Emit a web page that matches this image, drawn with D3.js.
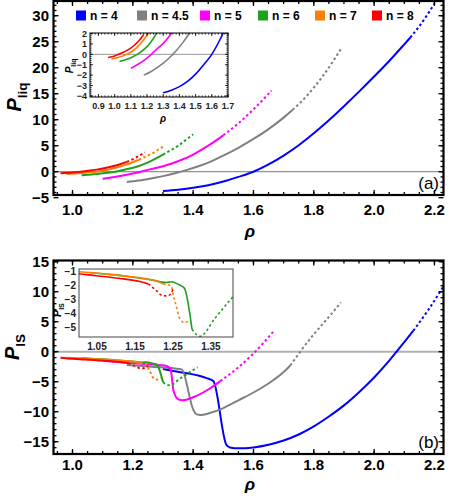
<!DOCTYPE html>
<html><head><meta charset="utf-8">
<script src="https://cdn.jsdelivr.net/npm/d3@7"></script>
<style>body{margin:0;background:#fff;} svg{display:block;font-family:"Liberation Sans",Arial,sans-serif;}</style>
</head><body><svg id="c" width="450" height="501"></svg>
<script>
const seriesNames = ["n = 4", "n = 4.5", "n = 5", "n = 6", "n = 7", "n = 8"];
const seriesColors = ["#0000ff", "#808080", "#ff00ff", "#1fa01f", "#ff8000", "#ff0000"];

// Panel (a): P_liq vs rho
const liqRho4 = [1.30,1.35,1.40,1.45,1.50,1.55,1.60,1.65,1.70,1.75,1.80,1.85,1.90,1.95,2.00,2.05,2.10,2.12,2.15,2.20];
const liqP4   = [-3.7,-3.45,-3.1,-2.6,-1.9,-1.0,0.0,1.4,3.1,5.1,7.4,9.9,12.6,15.4,18.3,21.3,24.5,25.8,28.0,32.3];
const liqRho45 = [1.18,1.22,1.26,1.30,1.34,1.38,1.42,1.46,1.50,1.55,1.60,1.65,1.70,1.73,1.78,1.83,1.89];
const liqP45   = [-2.0,-1.7,-1.3,-0.85,-0.3,0.35,1.1,2.0,3.1,4.6,6.3,8.2,10.4,11.9,14.8,18.4,23.6];
const liqRho5 = [1.10,1.14,1.18,1.22,1.26,1.30,1.35,1.40,1.45,1.50,1.55,1.60,1.66];
const liqP5   = [-1.35,-1.0,-0.6,-0.1,0.5,1.05,2.0,3.3,5.0,7.0,9.3,12.0,15.6];
const liqRho6 = [1.03,1.07,1.11,1.15,1.19,1.22,1.25,1.30,1.35,1.40];
const liqP6   = [-0.7,-0.5,-0.25,0.1,0.6,1.1,1.8,3.3,5.0,7.2];
const liqRho7 = [0.98,1.02,1.06,1.10,1.14,1.18,1.22,1.26,1.30];
const liqP7   = [-0.45,-0.3,-0.1,0.2,0.7,1.4,2.3,3.4,4.8];
const liqRho8 = [0.96,1.00,1.04,1.08,1.12,1.15,1.18,1.21,1.24];
const liqP8   = [-0.3,-0.15,0.1,0.4,0.85,1.3,1.9,2.7,3.7];
const liqSolidEnd = [2.12, 1.73, 1.50, 1.30, 1.22, 1.18];

// Panel (b): P_IS vs rho
const isRho4 = [1.30,1.34,1.38,1.42,1.445,1.467,1.51,1.522,1.55,1.60,1.65,1.70,1.75,1.80,1.85,1.90,1.95,2.00,2.05,2.10,2.13,2.18,2.235];
const isP4   = [-2.9,-3.25,-3.6,-4.0,-4.4,-4.9,-15.5,-15.95,-16.1,-15.95,-15.5,-14.8,-13.8,-12.45,-10.8,-8.95,-6.75,-4.3,-1.5,1.6,3.5,7.0,11.3];
const isRho45 = [1.18,1.22,1.26,1.30,1.34,1.362,1.40,1.41,1.425,1.45,1.50,1.55,1.60,1.65,1.70,1.722,1.755,1.80,1.85,1.89];
const isP45   = [-2.2,-2.35,-2.5,-2.65,-2.8,-2.95,-9.6,-10.4,-10.55,-10.3,-9.4,-8.1,-6.8,-5.3,-3.4,-2.3,0.0,2.9,5.8,8.2];
const isRho5 = [1.10,1.15,1.20,1.25,1.29,1.31,1.325,1.335,1.35,1.365,1.40,1.45,1.49,1.55,1.60,1.665];
const isP5   = [-1.5,-1.7,-1.9,-2.1,-2.25,-2.35,-2.9,-6.5,-7.9,-8.1,-7.6,-6.3,-4.9,-2.6,-0.3,3.3];
const isRho6 = [1.03,1.07,1.11,1.15,1.19,1.233,1.246,1.265,1.28,1.30,1.321,1.36,1.40,1.415];
const isP6   = [-1.1,-1.2,-1.3,-1.45,-1.6,-1.8,-1.75,-1.95,-2.2,-5.1,-5.6,-4.35,-3.05,-2.6];
const isRho7 = [0.98,1.02,1.06,1.10,1.14,1.18,1.20,1.224,1.235,1.246,1.25,1.259,1.267,1.28,1.294];
const isP7   = [-1.0,-1.08,-1.17,-1.28,-1.4,-1.55,-1.65,-1.9,-1.95,-2.05,-2.6,-3.5,-4.3,-4.64,-4.45];
const isRho8 = [0.96,1.00,1.04,1.08,1.12,1.16,1.185,1.207,1.222,1.237,1.25];
const isP8   = [-1.0,-1.18,-1.3,-1.42,-1.55,-1.72,-1.9,-2.39,-2.73,-2.75,-2.3];
const isSolidEnd = [2.13, 1.722, 1.49, 1.30, 1.224, 1.185];

// Tick labels
const mainXTicks = [1.0, 1.2, 1.4, 1.6, 1.8, 2.0, 2.2];
const liqYTicks = [-5, 0, 5, 10, 15, 20, 25, 30];
const isYTicks = [-15, -10, -5, 0, 5, 10, 15];
const liqInsetXTicks = [0.9, 1.0, 1.1, 1.2, 1.3, 1.4, 1.5, 1.6, 1.7];
const liqInsetYTicks = [-4, -3, -2, -1, 0, 1, 2];
const isInsetXTicks = [1.05, 1.15, 1.25, 1.35];
const isInsetYTicks = [-5, -4, -3, -2, -1];

const liqData = [[liqRho4,liqP4],[liqRho45,liqP45],[liqRho5,liqP5],[liqRho6,liqP6],[liqRho7,liqP7],[liqRho8,liqP8]];
const isData = [[isRho4,isP4],[isRho45,isP45],[isRho5,isP5],[isRho6,isP6],[isRho7,isP7],[isRho8,isP8]];

const svg = d3.select("#c");
const defs = svg.append("defs");
let clipN = 0;
function clipRect(x0, y0, x1, y1) {
  const id = "clip" + (clipN++);
  defs.append("clipPath").attr("id", id).append("rect")
    .attr("x", x0).attr("y", y0).attr("width", x1 - x0).attr("height", y1 - y0);
  return "url(#" + id + ")";
}
function fmt(v, d) { return v < 0 ? "\u2212" + Math.abs(v).toFixed(d) : v.toFixed(d); }

function drawSeries(g, xs, ys, rho, p, solidEnd, color, width, solidOnly) {
  const pts = rho.map((r, i) => [r, p[i]]);
  const line = d3.line().x(d => xs(d[0])).y(d => ys(d[1])).curve(d3.curveMonotoneX);
  const solid = pts.filter(d => d[0] <= solidEnd + 1e-9);
  const dotted = pts.filter(d => d[0] >= solidEnd - 1e-9);
  g.append("path").attr("d", line(solid)).attr("fill", "none").attr("stroke", color)
    .attr("stroke-width", width).attr("stroke-linejoin", "round");
  if (!solidOnly && dotted.length > 1) {
    g.append("path").attr("d", line(dotted)).attr("fill", "none").attr("stroke", color)
      .attr("stroke-width", width).attr("stroke-dasharray", "2.5,2.5");
  }
}

function frameTicks(g, xs, ys, xMaj, xMin, yMaj, yMin, L, l, sw) {
  const [x0, x1] = xs.range(); const [y0, y1] = ys.range();
  const tk = g.append("g").attr("stroke", "#000").attr("stroke-width", sw);
  xMin.forEach(v => { const X = xs(v); if (X < x0 || X > x1) return;
    tk.append("line").attr("x1", X).attr("x2", X).attr("y1", y0).attr("y2", y0 - l);
    tk.append("line").attr("x1", X).attr("x2", X).attr("y1", y1).attr("y2", y1 + l); });
  xMaj.forEach(v => { const X = xs(v); if (X < x0 || X > x1) return;
    tk.append("line").attr("x1", X).attr("x2", X).attr("y1", y0).attr("y2", y0 - L);
    tk.append("line").attr("x1", X).attr("x2", X).attr("y1", y1).attr("y2", y1 + L); });
  yMin.forEach(v => { const Y = ys(v); if (Y > y0 || Y < y1) return;
    tk.append("line").attr("x1", x0).attr("x2", x0 + l).attr("y1", Y).attr("y2", Y);
    tk.append("line").attr("x1", x1).attr("x2", x1 - l).attr("y1", Y).attr("y2", Y); });
  yMaj.forEach(v => { const Y = ys(v); if (Y > y0 + 3 || Y < y1) return;
    tk.append("line").attr("x1", x0).attr("x2", x0 + L).attr("y1", Y).attr("y2", Y);
    tk.append("line").attr("x1", x1).attr("x2", x1 - L).attr("y1", Y).attr("y2", Y); });
}
function rangeStep(a, b, s) { const out = []; for (let v = a; v <= b + 1e-9; v += s) out.push(+v.toFixed(4)); return out; }

function labelSub(g, x, y, main, sub, size, rotate) {
  const t = g.append("text").attr("transform", `translate(${x},${y})` + (rotate ? " rotate(-90)" : ""))
    .attr("text-anchor", "middle").attr("font-weight", "bold").attr("font-size", size);
  t.append("tspan").attr("font-style", "italic").text(main);
  t.append("tspan").attr("font-size", size * 0.68).attr("dy", size * 0.28).text(sub);
}

// ---------- Panel (a) ----------
const xA = d3.scaleLinear().domain([0.937, 2.23]).range([53.5, 443.5]);
const yA = d3.scaleLinear().domain([-4.48, 32.83]).range([195, 1]);
const gA = svg.append("g");
gA.append("line").attr("x1", xA.range()[0]).attr("x2", xA.range()[1]).attr("y1", yA(0)).attr("y2", yA(0))
  .attr("stroke", "#777").attr("stroke-width", 1);
const cA = gA.append("g").attr("clip-path", clipRect(53.5, 1, 443.5, 195));
liqData.forEach((d, i) => drawSeries(cA, xA, yA, d[0], d[1], liqSolidEnd[i], seriesColors[i], 2, false));
frameTicks(gA, xA, yA, mainXTicks, rangeStep(0.95, 2.2, 0.05), liqYTicks, rangeStep(-4, 32, 1), 5, 3, 1.3);
gA.append("rect").attr("x", 53.5).attr("y", 1).attr("width", 390).attr("height", 194)
  .attr("fill", "none").attr("stroke", "#000").attr("stroke-width", 2.2);
gA.selectAll(".xl").data(mainXTicks).join("text").attr("x", d => xA(d)).attr("y", 215)
  .attr("text-anchor", "middle").attr("font-weight", "bold").attr("font-size", 15).text(d => fmt(d, 1));
gA.selectAll(".yl").data(liqYTicks).join("text").attr("x", 49).attr("y", d => yA(d) + 5.3)
  .attr("text-anchor", "end").attr("font-weight", "bold").attr("font-size", 15).text(d => fmt(d, 0));
labelSub(gA, 21, 97, "P", "liq", 20, true);
gA.append("text").attr("x", 250).attr("y", 237).attr("text-anchor", "middle").attr("font-weight", "bold")
  .attr("font-style", "italic").attr("font-size", 17).text("\u03c1");
gA.append("text").attr("x", 439).attr("y", 189).attr("text-anchor", "end").attr("font-size", 17).text("(a)");

// legend
const legX = [76, 137, 200, 258, 315, 372];
seriesNames.forEach((n, i) => {
  gA.append("rect").attr("x", legX[i]).attr("y", 10.5).attr("width", 10).attr("height", 10).attr("fill", seriesColors[i]);
  gA.append("text").attr("x", legX[i] + 14).attr("y", 20).attr("font-weight", "bold").attr("font-size", 12).text(n);
});

// inset (a)
const xAi = d3.scaleLinear().domain([0.848, 1.70]).range([90, 228]);
const yAi = d3.scaleLinear().domain([-4.1, 2.05]).range([97, 33]);
const gAi = svg.append("g");
gAi.append("rect").attr("x", 90).attr("y", 33).attr("width", 138).attr("height", 64).attr("fill", "#fff");
gAi.append("line").attr("x1", 90).attr("x2", 228).attr("y1", yAi(0)).attr("y2", yAi(0)).attr("stroke", "#999").attr("stroke-width", 1);
const cAi = gAi.append("g").attr("clip-path", clipRect(90, 33, 228, 97));
liqData.forEach((d, i) => drawSeries(cAi, xAi, yAi, d[0], d[1], liqSolidEnd[i], seriesColors[i], 1.6, true));
frameTicks(gAi, xAi, yAi, liqInsetXTicks, rangeStep(0.86, 1.7, 0.02), liqInsetYTicks, rangeStep(-4, 2, 0.2), 3, 1.6, 0.8);
gAi.append("rect").attr("x", 90).attr("y", 33).attr("width", 138).attr("height", 64)
  .attr("fill", "none").attr("stroke", "#000").attr("stroke-width", 1);
gAi.selectAll(".xl").data(liqInsetXTicks).join("text").attr("x", d => xAi(d)).attr("y", 108.5)
  .attr("text-anchor", "middle").attr("font-weight", "bold").attr("font-size", 9).attr("fill", "#222").text(d => fmt(d, 1));
gAi.selectAll(".yl").data(liqInsetYTicks).join("text").attr("x", 87).attr("y", d => yAi(d) + 3.2)
  .attr("text-anchor", "end").attr("font-weight", "bold").attr("font-size", 9).attr("fill", "#222").text(d => fmt(d, 0));
labelSub(gAi, 73, 66, "P", "liq", 10, true);
gAi.append("text").attr("x", 163).attr("y", 122).attr("text-anchor", "middle").attr("font-weight", "bold")
  .attr("font-style", "italic").attr("font-size", 10).text("\u03c1");

// ---------- Panel (b) ----------
const xB = d3.scaleLinear().domain([0.937, 2.23]).range([53.5, 443.5]);
const yB = d3.scaleLinear().domain([-17.05, 15.2]).range([454, 260.5]);
const gB = svg.append("g");
gB.append("line").attr("x1", 53.5).attr("x2", 443.5).attr("y1", yB(0)).attr("y2", yB(0))
  .attr("stroke", "#b0b0b0").attr("stroke-width", 2);
const cB = gB.append("g").attr("clip-path", clipRect(53.5, 260.5, 443.5, 454));
isData.forEach((d, i) => drawSeries(cB, xB, yB, d[0], d[1], isSolidEnd[i], seriesColors[i], 2, false));
frameTicks(gB, xB, yB, mainXTicks, rangeStep(0.95, 2.2, 0.05), isYTicks, rangeStep(-17, 15, 1), 5, 3, 1.3);
gB.append("rect").attr("x", 53.5).attr("y", 260.5).attr("width", 390).attr("height", 193.5)
  .attr("fill", "none").attr("stroke", "#000").attr("stroke-width", 2.2);
gB.selectAll(".xl").data(mainXTicks).join("text").attr("x", d => xB(d)).attr("y", 470)
  .attr("text-anchor", "middle").attr("font-weight", "bold").attr("font-size", 15).text(d => fmt(d, 1));
gB.selectAll(".yl").data(isYTicks).join("text").attr("x", 49).attr("y", d => yB(d) + 5.3)
  .attr("text-anchor", "end").attr("font-weight", "bold").attr("font-size", 15).text(d => fmt(d, 0));
labelSub(gB, 19, 347, "P", "IS", 20, true);
gB.append("text").attr("x", 250).attr("y", 490).attr("text-anchor", "middle").attr("font-weight", "bold")
  .attr("font-style", "italic").attr("font-size", 17).text("\u03c1");
gB.append("text").attr("x", 439).attr("y", 448).attr("text-anchor", "end").attr("font-size", 17).text("(b)");

// inset (b)
const xBi = d3.scaleLinear().domain([1.0026, 1.408]).range([79, 233]);
const yBi = d3.scaleLinear().domain([-5.65, -0.85]).range([337, 269]);
const gBi = svg.append("g");
gBi.append("rect").attr("x", 79).attr("y", 269).attr("width", 154).attr("height", 68).attr("fill", "#fff");
const cBi = gBi.append("g").attr("clip-path", clipRect(79, 269, 233, 337));
[3, 4, 5].forEach(i => drawSeries(cBi, xBi, yBi, isData[i][0], isData[i][1], isSolidEnd[i], seriesColors[i], 1.6, false));
gBi.append("rect").attr("x", 79).attr("y", 269).attr("width", 154).attr("height", 68)
  .attr("fill", "none").attr("stroke", "#444").attr("stroke-width", 1);
gBi.selectAll(".xl").data(isInsetXTicks).join("text").attr("x", d => xBi(d)).attr("y", 349.5)
  .attr("text-anchor", "middle").attr("font-weight", "bold").attr("font-size", 10).attr("fill", "#222").text(d => d.toFixed(2));
gBi.selectAll(".yl").data(isInsetYTicks).join("text").attr("x", 76).attr("y", d => yBi(d) + 3.5)
  .attr("text-anchor", "end").attr("font-weight", "bold").attr("font-size", 10).attr("fill", "#222").text(d => fmt(d, 0));
labelSub(gBi, 61, 310, "P", "IS", 10.5, true);
</script></body></html>
